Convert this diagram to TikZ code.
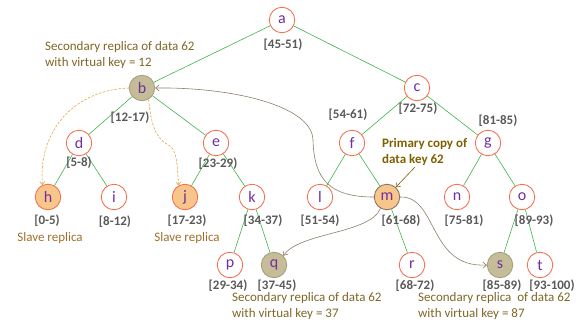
\documentclass[tikz,border=0pt]{standalone}
\usepackage{fontspec}
\setmainfont{Carlito}
\usetikzlibrary{arrows.meta}

\definecolor{nodeedge}{HTML}{F4694A}
\definecolor{letter}{HTML}{7030A0}
\definecolor{treeline}{HTML}{3DB54A}
\definecolor{rangegray}{HTML}{595959}
\definecolor{slavefill}{HTML}{F8C68A}
\definecolor{secfill}{HTML}{C4BD97}
\definecolor{secedge}{HTML}{A39C7C}
\definecolor{primedge}{HTML}{7F7060}
\definecolor{notebrown}{HTML}{7F6000}
\definecolor{notetext}{HTML}{806526}
\definecolor{slavetext}{HTML}{A0702A}
\definecolor{linkgray}{HTML}{8C7E68}
\definecolor{dashorange}{HTML}{E8A040}

\tikzset{
  vnode/.style={circle, draw=nodeedge, fill=white, line width=0.8pt,
    minimum size=25.5pt, inner sep=0pt, text=letter,
    font=\fontsize{16}{16}\selectfont},
  slave/.style={vnode, fill=slavefill},
  secondary/.style={vnode, fill=secfill, draw=secedge},
  primary/.style={vnode, fill=slavefill, draw=primedge},
  keyrange/.style={font=\fontsize{13}{13}\selectfont\bfseries, text=rangegray, inner sep=0pt},
  note/.style={font=\fontsize{13}{16}\selectfont, text=notetext, align=left,
    inner sep=0pt, anchor=west},
  slavenote/.style={font=\fontsize{13}{16}\selectfont, text=slavetext, inner sep=0pt},
  primenote/.style={font=\fontsize{13}{16}\selectfont\bfseries, text=notebrown,
    align=left, inner sep=0pt, anchor=west},
  tree/.style={draw=treeline, line width=0.6pt},
  link/.style={draw=linkgray, line width=0.6pt, -{Straight Barb[length=3.5pt,width=6pt]}},
  pointer/.style={draw=notebrown, line width=0.6pt, -{Straight Barb[length=3.5pt,width=6pt]}},
  copyline/.style={draw=dashorange, line width=0.6pt, dashed,
    dash pattern=on 2.5pt off 1.5pt, -{Straight Barb[length=3pt,width=5pt]}},
}

\begin{document}
\begin{tikzpicture}[x=1pt, y=-1pt]
\useasboundingbox (0,0) rectangle (584,321);

% virtual nodes of the tree
\node[vnode]     (a) at (282,20)  {a};
\node[secondary] (b) at (142,88)  {b};
\node[vnode]     (c) at (417,88)  {c};
\node[vnode]     (d) at (79,143)  {d};
\node[vnode]     (e) at (216,143) {e};
\node[vnode]     (f) at (352,143) {f};
\node[vnode]     (g) at (488,143) {g};
\node[slave]     (h) at (48,197)  {h};
\node[vnode]     (i) at (114,197) {i};
\node[slave]     (j) at (185,197) {j};
\node[vnode]     (k) at (252,197) {k};
\node[vnode]     (l) at (320,197) {l};
\node[primary]   (m) at (387,197) {m};
\node[vnode]     (n) at (457,197) {n};
\node[vnode]     (o) at (522,197) {o};
\node[vnode]     (p) at (230,265) {p};
\node[secondary] (q) at (274,265) {q};
\node[vnode]     (r) at (412,265) {r};
\node[secondary] (s) at (500,265) {s};
\node[vnode]     (t) at (540,265) {t};

% tree edges
\foreach \u/\v in {a/b, a/c, b/d, b/e, c/f, c/g, d/h, d/i, e/j, e/k,
                   f/l, f/m, g/n, g/o, k/p, k/q, m/r, o/s, o/t}
  \draw[tree] (\u) -- (\v);

% key ranges
\node[keyrange] (ra) at (283,45)  {[45-51)};
\node[keyrange] (rb) at (130,118) {[12-17)};
\node[keyrange] (rc) at (418,109) {[72-75)};
\node[keyrange] (rf) at (348,115) {[54-61)};
\node[keyrange] (rg) at (498,121) {[81-85)};
\node[keyrange] (rd) at (79,163)  {[5-8)};
\node[keyrange] (re) at (218,164) {[23-29)};
\node[keyrange] (rh) at (47,221)  {[0-5)};
\node[keyrange] (ri) at (115,222) {[8-12)};
\node[keyrange] (rj) at (187,221) {[17-23)};
\node[keyrange] (rk) at (263,221) {[34-37)};
\node[keyrange] (rl) at (320,221) {[51-54)};
\node[keyrange] (rm) at (401,221) {[61-68)};
\node[keyrange] (rn) at (464,221) {[75-81)};
\node[keyrange] (ro) at (534,221) {[89-93)};
\node[keyrange] (rp) at (228,286) {[29-34)};
\node[keyrange] (rq) at (277,286) {[37-45)};
\node[keyrange] (rr) at (415,286) {[68-72)};
\node[keyrange] (rs) at (502,286) {[85-89)};
\node[keyrange] (rt) at (552,286) {[93-100)};

% annotations
\node[note] (nb) at (45,55) {Secondary replica of data 62\\with virtual key = 12};
\node[note] (nq) at (232,306) {Secondary replica of data 62\\with virtual key = 37};
\node[note] (ns) at (418,306) {Secondary replica~~of data 62\\with virtual key = 87};
\node[slavenote] (nh) at (50,238)  {Slave replica};
\node[slavenote] (nj) at (187,238) {Slave replica};
\node[primenote] (nm) at (382,152) {Primary copy of\\data key 62};

% pointer from the primary note to m
\coordinate (pm) at (415,167);
\draw[pointer] (pm) -- (m.48);

% replication of m's data to the secondary replicas
\draw[link] (m.west) .. controls (330,197) and (314,180) .. (313,140)
                     .. controls (312,105) and (230,87) .. (b.east);
\draw[link] (m.-120) .. controls (370,234) and (300,232) .. (q.north east);
\draw[link] (m.east) .. controls (438,196) and (428,268) .. (s.west);

% slave copies of b
\draw[copyline] (b.west) .. controls (75,90) and (38,130) .. (h.115);
\draw[copyline] (b.-60) .. controls (152,135) and (160,140) .. (170,146)
                        .. controls (178,152) and (177,170) .. (j.118);
\end{tikzpicture}
\end{document}
